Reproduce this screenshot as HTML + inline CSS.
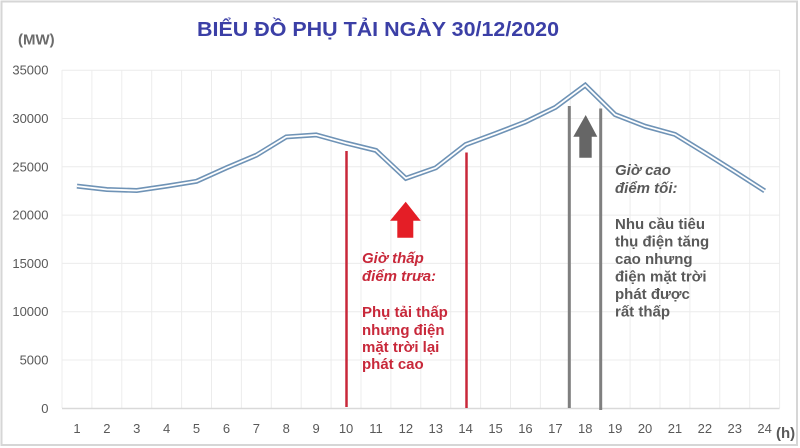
<!DOCTYPE html>
<html><head><meta charset="utf-8"><style>
html,body{margin:0;padding:0;background:#fff;}
svg{display:block;}
text{font-family:"Liberation Sans",sans-serif;}
</style></head><body>
<svg width="800" height="448" viewBox="0 0 800 448" xmlns="http://www.w3.org/2000/svg">
<rect x="0" y="0" width="800" height="448" fill="#fff"/>
<rect x="1.5" y="1.5" width="795.5" height="443.5" fill="none" stroke="#d6d6d6" stroke-width="2"/>
<!-- grid -->
<g stroke="#ececec" stroke-width="1">
<line x1="62" y1="70.2" x2="779.6" y2="70.2"/>
<line x1="62" y1="118.5" x2="779.6" y2="118.5"/>
<line x1="62" y1="166.8" x2="779.6" y2="166.8"/>
<line x1="62" y1="215.1" x2="779.6" y2="215.1"/>
<line x1="62" y1="263.4" x2="779.6" y2="263.4"/>
<line x1="62" y1="311.7" x2="779.6" y2="311.7"/>
<line x1="62" y1="360" x2="779.6" y2="360"/>
<line x1="62" y1="70" x2="62" y2="408"/>
<line x1="91.9" y1="70" x2="91.9" y2="408"/>
<line x1="121.8" y1="70" x2="121.8" y2="408"/>
<line x1="151.7" y1="70" x2="151.7" y2="408"/>
<line x1="181.6" y1="70" x2="181.6" y2="408"/>
<line x1="211.5" y1="70" x2="211.5" y2="408"/>
<line x1="241.4" y1="70" x2="241.4" y2="408"/>
<line x1="271.3" y1="70" x2="271.3" y2="408"/>
<line x1="301.2" y1="70" x2="301.2" y2="408"/>
<line x1="331.1" y1="70" x2="331.1" y2="408"/>
<line x1="361" y1="70" x2="361" y2="408"/>
<line x1="390.9" y1="70" x2="390.9" y2="408"/>
<line x1="420.8" y1="70" x2="420.8" y2="408"/>
<line x1="450.7" y1="70" x2="450.7" y2="408"/>
<line x1="480.6" y1="70" x2="480.6" y2="408"/>
<line x1="510.5" y1="70" x2="510.5" y2="408"/>
<line x1="540.4" y1="70" x2="540.4" y2="408"/>
<line x1="570.3" y1="70" x2="570.3" y2="408"/>
<line x1="600.2" y1="70" x2="600.2" y2="408"/>
<line x1="630.1" y1="70" x2="630.1" y2="408"/>
<line x1="660" y1="70" x2="660" y2="408"/>
<line x1="689.9" y1="70" x2="689.9" y2="408"/>
<line x1="719.8" y1="70" x2="719.8" y2="408"/>
<line x1="749.7" y1="70" x2="749.7" y2="408"/>
<line x1="779.6" y1="70" x2="779.6" y2="408"/>
</g>
<line x1="62" y1="408.5" x2="779.6" y2="408.5" stroke="#d9d9d9" stroke-width="1.5"/>

<!-- title -->
<text x="197" y="36" font-size="20" font-weight="bold" fill="#3b3fa6" textLength="362" lengthAdjust="spacingAndGlyphs">BIỂU ĐỒ PHỤ TẢI NGÀY 30/12/2020</text>
<text x="18" y="44.5" font-size="15" font-weight="bold" fill="#6b6b6b">(MW)</text>

<!-- y labels -->
<g font-size="13" fill="#595959" text-anchor="end">
<text x="48.5" y="74.7">35000</text>
<text x="48.5" y="123">30000</text>
<text x="48.5" y="171.3">25000</text>
<text x="48.5" y="219.6">20000</text>
<text x="48.5" y="267.9">15000</text>
<text x="48.5" y="316.2">10000</text>
<text x="48.5" y="364.5">5000</text>
<text x="48.5" y="412.8">0</text>
</g>
<!-- x labels -->
<g font-size="13" fill="#595959" text-anchor="middle">
<text x="76.95" y="433">1</text>
<text x="106.85" y="433">2</text>
<text x="136.75" y="433">3</text>
<text x="166.65" y="433">4</text>
<text x="196.55" y="433">5</text>
<text x="226.45" y="433">6</text>
<text x="256.35" y="433">7</text>
<text x="286.25" y="433">8</text>
<text x="316.15" y="433">9</text>
<text x="346.05" y="433">10</text>
<text x="375.95" y="433">11</text>
<text x="405.85" y="433">12</text>
<text x="435.75" y="433">13</text>
<text x="465.65" y="433">14</text>
<text x="495.55" y="433">15</text>
<text x="525.45" y="433">16</text>
<text x="555.35" y="433">17</text>
<text x="585.25" y="433">18</text>
<text x="615.15" y="433">19</text>
<text x="645.05" y="433">20</text>
<text x="674.95" y="433">21</text>
<text x="704.85" y="433">22</text>
<text x="734.75" y="433">23</text>
<text x="764.65" y="433">24</text>
</g>
<text x="776" y="438" font-size="15" font-weight="bold" fill="#595959">(h)</text>

<!-- vertical marker lines -->
<line x1="346.5" y1="151" x2="346.5" y2="407" stroke="#c8283a" stroke-width="2.5"/>
<line x1="466.5" y1="152.5" x2="466.5" y2="408" stroke="#c8283a" stroke-width="2.5"/>
<line x1="569.3" y1="106" x2="569.3" y2="408" stroke="#7f7f7f" stroke-width="3"/>
<line x1="600.7" y1="108.5" x2="600.7" y2="410" stroke="#7f7f7f" stroke-width="3"/>

<!-- series (double line) -->
<polyline fill="none" stroke="#6f93b6" stroke-width="5" stroke-linejoin="miter" points="76.95,186.1 106.85,189.5 136.75,190.5 166.65,186.1 196.55,181.3 226.45,167.8 256.35,155.2 286.25,136.9 316.15,134.9 346.05,143.1 375.95,150.4 405.85,178.4 435.75,167.8 465.65,144.6 495.55,133.5 525.45,121.9 555.35,107.4 585.25,85.2 615.15,114.6 645.05,126.2 674.95,134.4 704.85,152.8 734.75,171.6 764.65,190.9"/>
<polyline fill="none" stroke="#ffffff" stroke-width="1.8" stroke-linejoin="miter" points="76.95,186.1 106.85,189.5 136.75,190.5 166.65,186.1 196.55,181.3 226.45,167.8 256.35,155.2 286.25,136.9 316.15,134.9 346.05,143.1 375.95,150.4 405.85,178.4 435.75,167.8 465.65,144.6 495.55,133.5 525.45,121.9 555.35,107.4 585.25,85.2 615.15,114.6 645.05,126.2 674.95,134.4 704.85,152.8 734.75,171.6 764.65,190.9"/>

<!-- arrows -->
<polygon points="405.7,201.7 420.7,220.7 413.3,220.7 413.3,237.7 397.3,237.7 397.3,220.7 390,220.7" fill="#e41e26"/>
<polygon points="585.7,115 597.3,136.7 591.7,136.7 591.7,157.7 579.3,157.7 579.3,136.7 573.3,136.7" fill="#666666"/>

<!-- red annotation -->
<g font-size="15" font-weight="bold" fill="#c8283a">
<text x="362" y="263" font-style="italic">Giờ thấp</text>
<text x="362" y="281" font-style="italic">điểm trưa:</text>
<text x="362" y="317">Phụ tải thấp</text>
<text x="362" y="335">nhưng điện</text>
<text x="362" y="352">mặt trời lại</text>
<text x="362" y="369">phát cao</text>
</g>
<!-- gray annotation -->
<g font-size="15" font-weight="bold" fill="#595959">
<text x="615" y="175" font-style="italic">Giờ cao</text>
<text x="615" y="193" font-style="italic">điểm tối:</text>
<text x="615" y="229">Nhu cầu tiêu</text>
<text x="615" y="246.5">thụ điện tăng</text>
<text x="615" y="264">cao nhưng</text>
<text x="615" y="281.5">điện mặt trời</text>
<text x="615" y="299">phát được</text>
<text x="615" y="316.5">rất thấp</text>
</g>
</svg>
</body></html>
